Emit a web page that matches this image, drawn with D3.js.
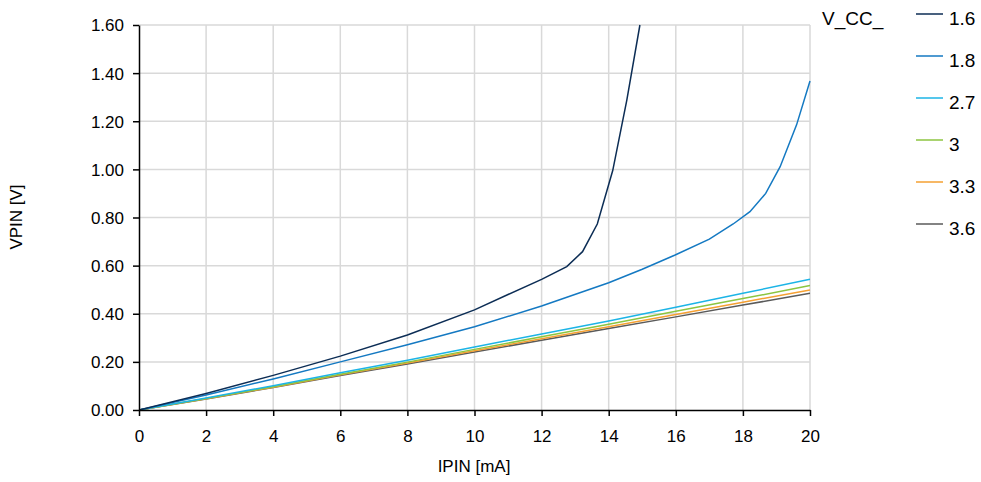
<!DOCTYPE html>
<html><head><meta charset="utf-8">
<script src="https://cdn.jsdelivr.net/npm/d3@7"></script>
<style>body{margin:0;background:#fff;} text{font-family:"Liberation Sans",Arial,sans-serif;}</style>
</head><body><svg id="c" width="981" height="482"></svg>
<script>
const xTicks = [0,2,4,6,8,10,12,14,16,18,20];
const yTicks = [0,0.2,0.4,0.6,0.8,1.0,1.2,1.4,1.6];
const seriesNames = ["1.6","1.8","2.7","3","3.3","3.6"];
const seriesColors = ["#0c2d55","#1479c2","#1cb4e6","#8cc540","#f5a032","#5a5a5a"];
const s16 = [[0,0],[2,0.069],[4,0.144],[6,0.224],[8,0.312],[10,0.416],[11,0.48],[12,0.543],[12.75,0.596],[13.22,0.658],[13.66,0.773],[14.12,0.995],[14.54,1.288],[14.93,1.6]];
const s18 = [[0,0],[2,0.062],[4,0.129],[6,0.2],[8,0.271],[10,0.346],[12,0.432],[14,0.529],[15,0.585],[15.98,0.644],[17,0.71],[17.71,0.773],[18.21,0.824],[18.68,0.9],[19.11,1.011],[19.6,1.185],[20,1.367]];
const s27 = [[0,0],[2,0.05],[4,0.101],[6,0.155],[8,0.207],[10,0.262],[12,0.316],[14,0.37],[16,0.427],[18,0.485],[20,0.543]];
const s30 = [[0,0],[2,0.048],[4,0.097],[6,0.149],[8,0.199],[10,0.252],[12,0.304],[14,0.356],[16,0.41],[18,0.463],[20,0.517]];
const s33 = [[0,0],[2,0.047],[4,0.095],[6,0.146],[8,0.195],[10,0.246],[12,0.296],[14,0.346],[16,0.397],[18,0.448],[20,0.499]];
const s36 = [[0,0],[2,0.046],[4,0.093],[6,0.143],[8,0.191],[10,0.241],[12,0.29],[14,0.339],[16,0.387],[18,0.436],[20,0.485]];
const seriesData = [s16,s18,s27,s30,s33,s36];

const svg = d3.select("#c");
const L=139, R=810, T=25, B=410;
const x = d3.scaleLinear().domain([0,20]).range([L,R]);
const y = d3.scaleLinear().domain([0,1.6]).range([B,T]);

const g = svg.append("g");
g.selectAll(".vg").data(xTicks.filter(d=>d>0)).enter().append("line")
 .attr("x1",d=>x(d)).attr("x2",d=>x(d)).attr("y1",T).attr("y2",B)
 .attr("stroke","#d9d9d9").attr("stroke-width",1.5);
g.selectAll(".hg").data(yTicks.filter(d=>d>0)).enter().append("line")
 .attr("x1",L).attr("x2",R).attr("y1",d=>y(d)).attr("y2",d=>y(d))
 .attr("stroke","#d9d9d9").attr("stroke-width",1.5);

svg.append("defs").append("clipPath").attr("id","clip").append("rect")
 .attr("x",L).attr("y",T-1).attr("width",R-L+2).attr("height",B-T+1);

const line = d3.line().x(d=>x(d[0])).y(d=>y(d[1]));
const lines = svg.append("g").attr("clip-path","url(#clip)");
for (let i=seriesData.length-1;i>=0;i--){
  lines.append("path").datum(seriesData[i]).attr("d",line).attr("fill","none")
   .attr("stroke",seriesColors[i]).attr("stroke-width",1.5);
}

const xa = svg.append("g").attr("transform",`translate(0,${B})`)
 .call(d3.axisBottom(x).tickValues(xTicks).tickSize(6).tickSizeOuter(0).tickFormat(d3.format("d")));
const ya = svg.append("g").attr("transform",`translate(${L},0)`)
 .call(d3.axisLeft(y).tickValues(yTicks).tickSize(6).tickSizeOuter(0).tickFormat(d3.format(".2f")));
[xa,ya].forEach(a=>{
  a.selectAll("path").attr("stroke","#000").attr("stroke-width",1.5);
  a.selectAll("line").attr("stroke","#000").attr("stroke-width",1.5);
  a.selectAll("text").attr("font-size",17).attr("fill","#000").attr("font-family","Liberation Sans, Arial, sans-serif");
});
xa.selectAll("text").attr("dy","0.71em").attr("y",20);
ya.selectAll("text").attr("x",-15).attr("dy","0.35em");

svg.append("text").attr("x",474).attr("y",472).attr("text-anchor","middle")
 .attr("font-size",17).text("IPIN [mA]");
svg.append("text").attr("transform","translate(22,217) rotate(-90)").attr("text-anchor","middle")
 .attr("font-size",17).text("VPIN [V]");

svg.append("text").attr("x",822).attr("y",25).attr("font-size",19).text("V_CC_");
const lg = svg.append("g");
seriesNames.forEach((n,i)=>{
  const yy = 14 + i*42;
  lg.append("line").attr("x1",916).attr("x2",943).attr("y1",yy).attr("y2",yy)
   .attr("stroke",seriesColors[i]).attr("stroke-width",1.5);
  lg.append("text").attr("x",949).attr("y",yy+11).attr("font-size",19).text(n);
});
</script></body></html>
